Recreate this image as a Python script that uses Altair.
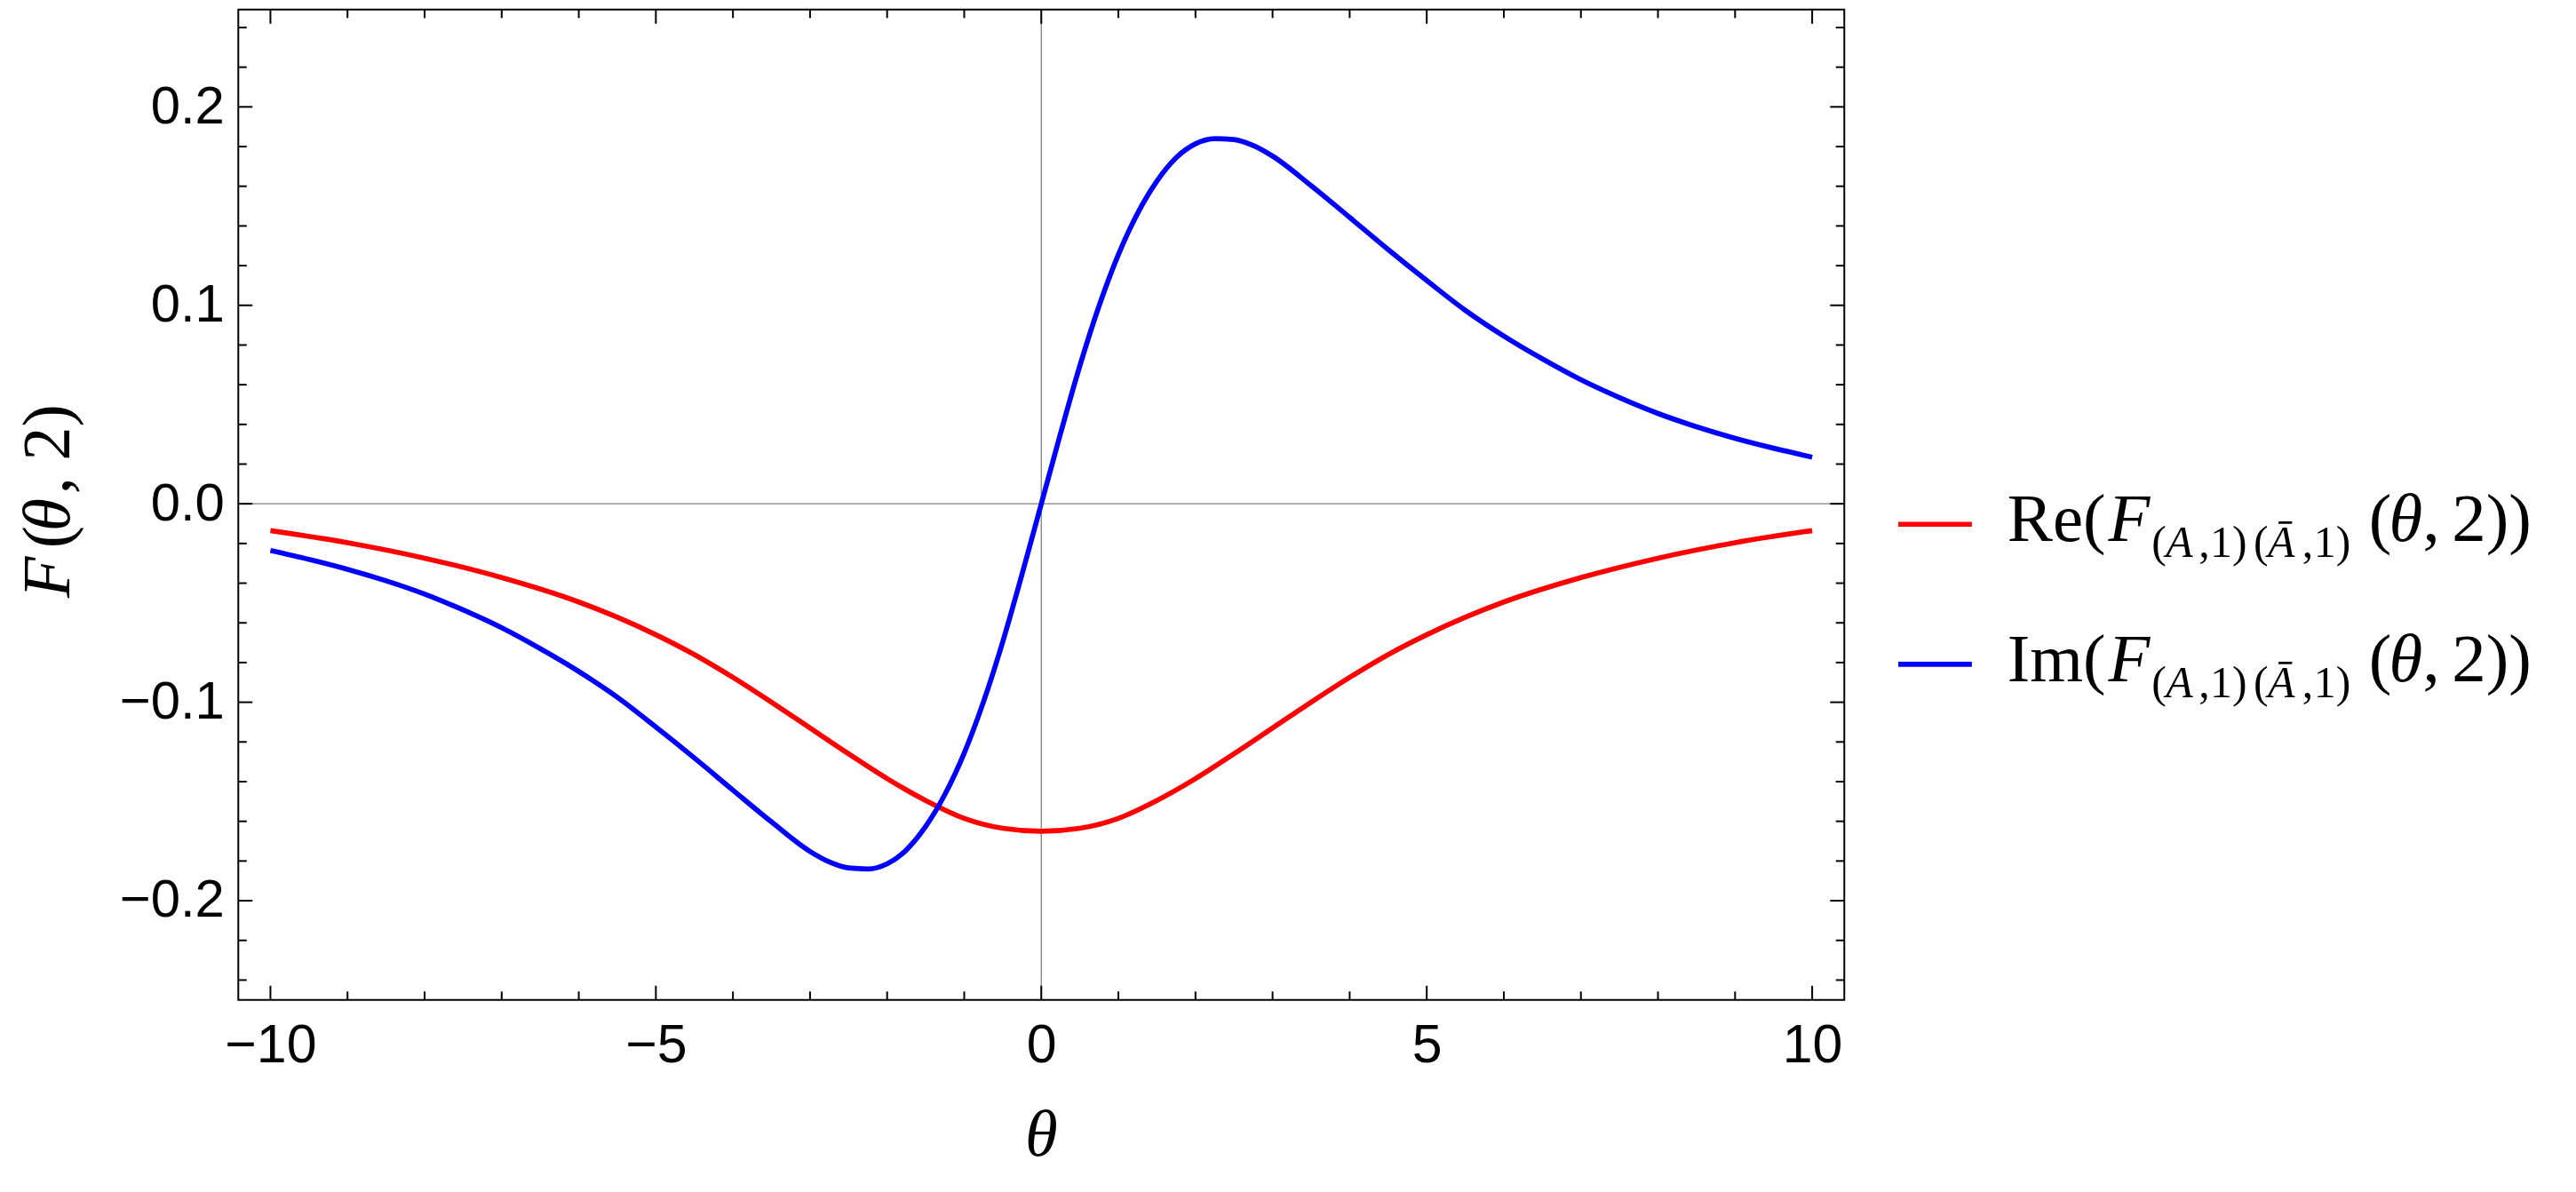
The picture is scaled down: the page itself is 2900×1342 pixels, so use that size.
import altair as alt
import pandas as pd

# ---------------- data ----------------
re_theta = [-10, -9, -8, -7, -6, -5.5, -5, -4.5, -4, -3.5, -3, -2.5, -2, -1.5, -1, -0.5, 0,
            0.5, 1, 1.5, 2, 2.5, 3, 3.5, 4, 4.5, 5, 5.5, 6, 7, 8, 9, 10]
re_value = [-0.0135, -0.0196, -0.0274, -0.0372, -0.0495, -0.0572, -0.066, -0.076, -0.0875, -0.100,
            -0.113, -0.126, -0.1385, -0.1495, -0.1585, -0.1635, -0.165,
            -0.1635, -0.1585, -0.1495, -0.1385, -0.126, -0.113, -0.100, -0.0875, -0.076, -0.066,
            -0.0572, -0.0495, -0.0372, -0.0274, -0.0196, -0.0135]

im_theta = [-10, -9.5, -9, -8.5, -8, -7.5, -7, -6.5, -6, -5.5, -5, -4.5, -4, -3.5, -3, -2.75, -2.5, -2.25,
            -2, -1.75, -1.5, -1.25, -1, -0.75, -0.5, -0.25, 0,
            0.25, 0.5, 0.75, 1, 1.25, 1.5, 1.75, 2, 2.25, 2.5, 2.75, 3, 3.5, 4, 4.5, 5, 5.5, 6, 6.5, 7,
            7.5, 8, 8.5, 9, 9.5, 10]
im_value = [-0.0235, -0.028, -0.033, -0.0388, -0.0455, -0.0535, -0.0625, -0.073, -0.0845, -0.0975,
            -0.1125, -0.1281, -0.1443, -0.1603, -0.1752, -0.1805, -0.1835, -0.184, -0.1814, -0.1744,
            -0.1626, -0.1464, -0.1256, -0.0998, -0.0695, -0.0355, 0,
            0.0355, 0.0695, 0.0998, 0.1256, 0.1464, 0.1626, 0.1744, 0.1814, 0.184, 0.1835, 0.1805,
            0.1752, 0.1603, 0.1443, 0.1281, 0.1125, 0.0975, 0.0845, 0.073, 0.0625, 0.0535, 0.0455,
            0.0388, 0.033, 0.028, 0.0235]

x_major = [-10, -5, 0, 5, 10]
x_minor = [-9, -8, -7, -6, -4, -3, -2, -1, 1, 2, 3, 4, 6, 7, 8, 9]
y_major = [-0.2, -0.1, 0.0, 0.1, 0.2]
y_minor = [-0.24, -0.22, -0.18, -0.16, -0.14, -0.12, -0.08, -0.06, -0.04, -0.02,
           0.02, 0.04, 0.06, 0.08, 0.12, 0.14, 0.16, 0.18, 0.22, 0.24]

series_prefix = ["Re", "Im"]
series_color = ["#ff0000", "#0000ff"]

# ---------------- layout ----------------
W, H = 1813, 1118
xs = alt.Scale(domain=[-10.4167, 10.4167], nice=False, zero=False)
ys = alt.Scale(domain=[-0.25, 0.249], nice=False, zero=False)
SERIF = "Liberation Serif"
SANS = "Liberation Sans"
MAJ, MIN = 16, 9.5
LW = 5.7


def xaxis():
    return alt.Axis(values=x_major, format="d", title=None, grid=False, domain=False, ticks=False,
                    tickSize=0, labelFont=SANS, labelFontSize=61, labelPadding=22, labelFlush=False,
                    labelColor="black", labelOverlap=False)


def yaxis():
    return alt.Axis(values=y_major, format=".1f", title=None, grid=False, domain=False, ticks=False,
                    tickSize=0, labelFont=SANS, labelFontSize=60, labelPadding=16, labelColor="black",
                    labelOverlap=False)


re_df = pd.DataFrame({"theta": re_theta, "value": re_value})
im_df = pd.DataFrame({"theta": im_theta, "value": im_value})

zero_v = alt.Chart(pd.DataFrame({"theta": [0]})).mark_rule(color="#808080", strokeWidth=1.3).encode(
    x=alt.X("theta:Q", scale=xs, axis=xaxis()))
zero_h = alt.Chart(pd.DataFrame({"value": [0]})).mark_rule(color="#808080", strokeWidth=1.3).encode(
    y=alt.Y("value:Q", scale=ys, axis=yaxis()))

red = alt.Chart(re_df).mark_line(color=series_color[0], strokeWidth=LW, interpolate="monotone").encode(
    x=alt.X("theta:Q", scale=xs, axis=xaxis()),
    y=alt.Y("value:Q", scale=ys, axis=yaxis()))
blue = alt.Chart(im_df).mark_line(color=series_color[1], strokeWidth=LW, interpolate="monotone").encode(
    x=alt.X("theta:Q", scale=xs, axis=xaxis()),
    y=alt.Y("value:Q", scale=ys, axis=yaxis()))


def xticks(vals, y0, y1):
    return alt.Chart(pd.DataFrame({"theta": vals})).mark_rule(color="black", strokeWidth=2).encode(
        x=alt.X("theta:Q", scale=xs, axis=xaxis()), y=alt.value(y0), y2=alt.value(y1))


def yticks(vals, x0, x1):
    return alt.Chart(pd.DataFrame({"value": vals})).mark_rule(color="black", strokeWidth=2).encode(
        y=alt.Y("value:Q", scale=ys, axis=yaxis()), x=alt.value(x0), x2=alt.value(x1))


ticks = [
    xticks(x_major, H, H - MAJ), xticks(x_minor, H, H - MIN),
    xticks(x_major, 0, MAJ), xticks(x_minor, 0, MIN),
    yticks(y_major, 0, MAJ), yticks(y_minor, 0, MIN),
    yticks(y_major, W, W - MAJ), yticks(y_minor, W, W - MIN),
]


def piece(txt, x, y, size, italic=False, angle=0, align="left"):
    props = dict(font=SERIF, fontSize=size, align=align, baseline="alphabetic", color="black")
    if italic:
        props["fontStyle"] = "italic"
    if angle:
        props["angle"] = angle
    return alt.Chart(pd.DataFrame({"t": [txt]})).mark_text(**props).encode(
        x=alt.value(x), y=alt.value(y), text="t:N")


texts = []
# x-axis title
texts.append(piece("θ", W / 2, 1294, 75, italic=True, align="center"))
# y-axis title F(θ, 2), rotated
YT_X = -191
texts += [
    piece("F", YT_X, 664, 76, italic=True, angle=270),
    piece("(", YT_X, 608, 76, angle=270),
    piece("θ", YT_X, 589, 76, italic=True, angle=270),
    piece(", 2)", YT_X, 547, 76, angle=270),
]

# legend
BIG, SUB = 77, 50
row_base = [600, 758]
legend_lines = []
for i, pre in enumerate(series_prefix):
    b = row_base[i]
    s = b + 18
    legend_lines.append(
        alt.Chart(pd.DataFrame({"t": [pre]})).mark_rule(color=series_color[i], strokeWidth=LW).encode(
            x=alt.value(1874), x2=alt.value(1957), y=alt.value(b - 19)))
    texts += [
        piece(pre + "(", 1997, b, BIG),
        piece("F", 2111, b, BIG, italic=True),
        piece("(", 2160, s, SUB),
        piece("A", 2176, s, SUB, italic=True),
        piece(",", 2213, s, SUB),
        piece("1)", 2226, s, SUB),
        piece("(", 2275, s, SUB),
        piece("Ā", 2291, s, SUB, italic=True),
        piece(",", 2330, s, SUB),
        piece("1)", 2343, s, SUB),
        piece("(", 2405, b, BIG),
        piece("θ", 2428, b, BIG, italic=True),
        piece(",", 2466, b, BIG),
        piece("2))", 2499, b, BIG),
    ]

chart = alt.layer(zero_v, zero_h, red, blue, *ticks, *legend_lines, *texts).resolve_axis(
    x="shared", y="shared").properties(
    width=W, height=H,
    autosize=alt.AutoSizeParams(type="none"),
    padding={"left": 261, "top": 1, "right": 818, "bottom": 215},
).configure_view(stroke="black", strokeWidth=2)

chart.save("out.html", embed_options={"renderer": "svg", "actions": False})
